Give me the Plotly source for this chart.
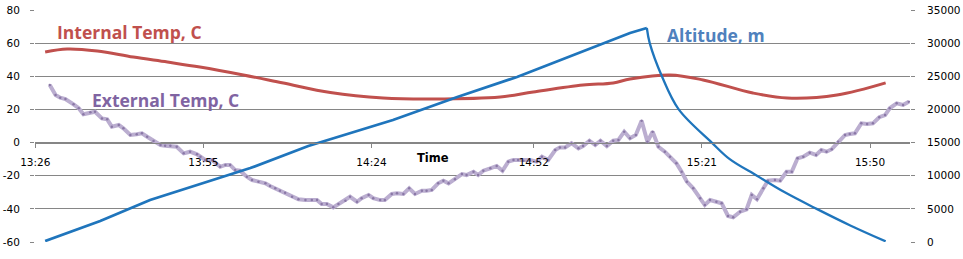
import plotly.graph_objects as go

# ---------------- data ----------------
tick_labels = ["13:26", "13:55", "14:24", "14:52", "15:21", "15:50"]
start_label = "13:26"
temp_ticks = [-60, -40, -20, 0, 20, 40, 60, 80]
temp_tick_labels = ["-60", "-40", "-20", "0", "20", "40", "60", "80"]

# minutes after 13:26
alt_up_min = [1.7, 11.2, 19.8, 28.4, 37.1, 47.1, 56.0, 61.7, 72.8, 83.1, 102.6, 105.5]
alt_up = [150, 3170, 6340, 8750, 11160, 14480, 16900, 18400, 21880, 24890, 31530, 32280]
alt_down_min = [105.5, 106.0, 108.1, 111.0, 116.7, 119.8, 124.5, 129.3, 134.8, 140.6, 146.7]
alt_down = [32280, 30000, 25000, 20000, 15000, 12500, 10000, 7500, 5000, 2500, 100]

int_min = [1.7, 5.5, 10.7, 16.9, 22.8, 28.4, 35.9, 42.8, 50.9, 60.0, 68.6, 80.2, 85.9,
           94.5, 99.7, 102.6, 109.5, 115.2, 123.8, 129.7, 138.3, 146.7]
int_temp = [54.7, 56.5, 55.3, 51.6, 48.6, 45.6, 40.8, 35.9, 30.2, 26.9, 26.3, 27.5, 30.5,
            34.7, 36.0, 38.3, 40.8, 37.8, 29.9, 26.9, 28.7, 36.0]

ext_min = [2.5, 3.5, 4.3, 5.2, 6.6, 7.5, 8.3, 9.5, 10.3, 11.5, 12.4, 13.2, 14.4, 15.2,
           16.4, 17.5, 18.4, 19.3, 20.4, 21.6, 22.4, 23.3, 24.4, 25.6, 26.7, 27.9, 28.5,
           29.3, 30.5, 31.3, 31.9, 32.8, 33.6, 34.5, 35.3, 36.5, 37.4, 38.5, 39.7, 40.5,
           41.4, 42.2, 43.1, 44.3, 45.4, 46.6, 47.7, 48.6, 49.4, 50.3, 51.4, 52.3, 53.5,
           54.3, 55.5, 56.3, 57.5, 58.3, 59.5, 60.3, 61.5, 62.4, 63.5, 64.5, 65.5, 66.7,
           67.5, 68.4, 69.5, 70.4, 71.3, 72.4, 73.6, 74.4, 75.6, 76.4, 77.3, 78.5, 79.6,
           80.6, 81.6, 82.5, 83.3, 84.2, 85.3, 86.5, 87.4, 88.5, 89.7, 90.5, 91.4, 92.5,
           93.7, 94.5, 95.6, 96.6, 97.5, 98.6, 99.7, 100.6, 101.6, 102.6, 103.6, 104.6,
           105.6, 106.5, 107.5, 108.6, 109.5, 110.6, 111.5, 112.4, 113.5, 114.7, 115.5,
           116.4, 117.5, 118.4, 119.5, 120.4, 121.6, 122.7, 123.6, 124.5, 125.6, 126.4,
           127.6, 128.5, 129.6, 130.5, 131.5, 132.5, 133.6, 134.7, 135.6, 136.5, 137.4,
           138.5, 139.7, 140.5, 141.4, 142.5, 143.5, 144.5, 145.6, 146.6, 147.4, 148.6,
           149.7, 150.7]
ext_temp = [34.7, 28.7, 27.1, 26.3, 23.1, 20.7, 17.1, 18.3, 18.6, 14.6, 14.0, 9.6, 10.6, 8.6,
            4.6, 5.0, 5.6, 3.5, 0.9, -1.5, -1.9, -1.9, -2.5, -6.5, -5.5, -7.1, -8.5,
            -10.5, -10.5, -12.5, -14.6, -13.5, -13.5, -16.6, -17.0, -20.6, -22.6, -23.6, -24.6, -26.2,
            -27.6, -29.1, -30.3, -32.7, -34.2, -34.7, -34.7, -34.7, -37.1, -37.1, -39.1, -37.1, -35.1,
            -32.7, -35.7, -33.6, -31.6, -33.6, -34.7, -34.7, -31.0, -30.6, -31.0, -27.6, -31.0, -29.0,
            -29.0, -28.6, -24.6, -23.0, -24.6, -22.2, -19.0, -19.6, -17.6, -19.6, -17.0, -15.5, -14.1,
            -17.0, -11.5, -10.5, -10.5, -10.9, -10.5, -11.5, -8.5, -10.5, -4.5, -2.9, -2.9, -0.4,
            -3.5, -2.1, 1.1, -1.5, 1.1, -2.1, 1.1, 1.6, 6.6, 2.6, 4.6, 13.2,
            0.5, 6.6, -2.5, -5.5, -8.5, -12.5, -17.6, -23.6, -27.6, -33.6, -37.7,
            -34.7, -35.7, -36.6, -44.3, -45.1, -41.7, -40.3, -31.6, -34.2, -27.6, -23.0,
            -22.6, -23.0, -17.6, -17.6, -9.5, -8.5, -6.1, -7.5, -4.5, -5.5, -4.0,
            0.5, 4.6, 5.2, 5.6, 11.6, 11.2, 11.6, 15.3, 16.6, 20.7, 23.7,
            22.7, 24.7]


def to_min(label):
    h, m = label.split(":")
    h0, m0 = start_label.split(":")
    return (int(h) * 60 + int(m)) - (int(h0) * 60 + int(m0))


tick_vals = [to_min(t) for t in tick_labels]

GRID = "#868686"
FONT = "DejaVu Sans"
TITLE_FONT = "Open Sans"
ALT_COLOR = "#1F75BC"

fig = go.Figure()
fig.add_trace(go.Scatter(x=ext_min, y=ext_temp, mode="lines+markers",
                         line=dict(color="#BBAED0", width=4),
                         marker=dict(color="#8A78A6", size=2.5),
                         yaxis="y", showlegend=False))
fig.add_trace(go.Scatter(x=int_min, y=int_temp, mode="lines", line_shape="spline",
                         line=dict(color="#C0504D", width=3),
                         yaxis="y", showlegend=False))
fig.add_trace(go.Scatter(x=alt_up_min, y=alt_up, mode="lines",
                         line=dict(color=ALT_COLOR, width=2.8),
                         yaxis="y2", showlegend=False))
fig.add_trace(go.Scatter(x=alt_down_min, y=alt_down, mode="lines", line_shape="spline",
                         line=dict(color=ALT_COLOR, width=2.3),
                         yaxis="y2", showlegend=False))

fig.update_layout(
    width=963, height=259,
    margin=dict(l=35, r=53, t=10, b=17, autoexpand=False),
    plot_bgcolor="white", paper_bgcolor="white",
    font=dict(family=FONT, size=10.5, color="#000000"),
    xaxis=dict(range=[-0.05, 150.9], showgrid=False, zeroline=False, automargin=False,
               anchor="free", position=60 / 140,
               showline=True, linecolor=GRID, linewidth=1,
               tickmode="array", tickvals=tick_vals, ticktext=tick_labels,
               ticks="outside", ticklen=4, tickcolor=GRID,
               ticklabelstandoff=6),
    yaxis=dict(range=[-60, 80], tickmode="array", tickvals=temp_ticks,
               ticktext=temp_tick_labels,
               showgrid=True, gridcolor=GRID, gridwidth=1,
               automargin=False,
               zeroline=False, showline=False, ticks="outside", ticklen=4, tickcolor=GRID,
               ticklabelstandoff=8),
    yaxis2=dict(range=[0, 35000], dtick=5000, overlaying="y", side="right",
                tickformat="d", automargin=False,
                showgrid=False, zeroline=False, showline=False,
                ticks="outside", ticklen=4, tickcolor=GRID, ticklabelstandoff=10),
    annotations=[
        dict(text="<b>Internal Temp, C</b>", xref="paper", yref="paper", x=0.0229, y=0.905,
             xanchor="left", yanchor="middle", showarrow=False,
             font=dict(family=TITLE_FONT, size=17.5, color="#C0504D")),
        dict(text="<b>External Temp, C</b>", xref="paper", yref="paper", x=0.063, y=0.612,
             xanchor="left", yanchor="middle", showarrow=False,
             font=dict(family=TITLE_FONT, size=17.5, color="#8064A2")),
        dict(text="<b>Altitude, m</b>", xref="paper", yref="paper", x=0.72, y=0.894,
             xanchor="left", yanchor="middle", showarrow=False,
             font=dict(family=TITLE_FONT, size=17.5, color="#4F81BD")),
        dict(text="<b>Time</b>", xref="paper", yref="paper", x=0.455, y=0.362,
             xanchor="center", yanchor="middle", showarrow=False,
             font=dict(family=FONT, size=11.5, color="#000000")),
    ],
)

fig.write_html("out.html")
